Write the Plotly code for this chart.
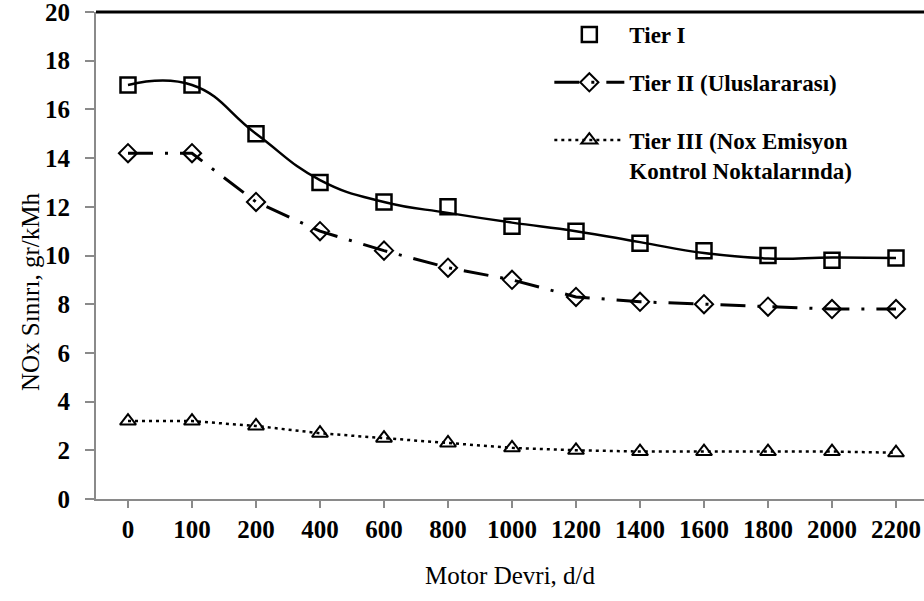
import plotly.graph_objects as go

categories = ["0", "100", "200", "400", "600", "800", "1000", "1200", "1400", "1600", "1800", "2000", "2200"]
tier1 = [17.0, 17.0, 15.0, 13.0, 12.2, 12.0, 11.2, 11.0, 10.5, 10.2, 10.0, 9.8, 9.9]
# smooth curve drawn through Tier I, values
tier1_curve = [17.0, 17.0, 15.0, 13.1, 12.2, 11.75, 11.35, 11.0, 10.55, 10.1, 9.88, 9.92, 9.9]
tier2 = [14.2, 14.2, 12.2, 11.0, 10.2, 9.5, 9.0, 8.3, 8.1, 8.0, 7.9, 7.8, 7.8]
tier3 = [3.2, 3.2, 3.0, 2.7, 2.5, 2.3, 2.1, 2.0, 1.95, 1.95, 1.95, 1.95, 1.9]
y_ticks = [0, 2, 4, 6, 8, 10, 12, 14, 16, 18, 20]

FONT = "Liberation Serif, Times New Roman, serif"
AXIS_GRAY = "#8a8a8a"

fig = go.Figure()

fig.add_trace(go.Scatter(
    x=categories, y=tier1_curve, mode="lines",
    line=dict(color="black", width=2.5, shape="spline", smoothing=1.3),
    showlegend=False, hoverinfo="skip",
))
fig.add_trace(go.Scatter(
    x=categories, y=tier1, mode="markers", name="<b>Tier I</b>",
    marker=dict(symbol="square-open", size=15, color="black", line=dict(width=2.5)),
    legendgroup="g1", legend="legend",
))
fig.add_trace(go.Scatter(
    x=categories, y=tier2, mode="lines+markers", name="<b>Tier II (Uluslararası)</b>",
    line=dict(color="black", width=3, dash="25px,12px,3px,12px"),
    marker=dict(symbol="diamond-open", size=14, color="black", line=dict(width=2)),
    legendgroup="g2", legend="legend",
))
fig.add_trace(go.Scatter(
    x=categories, y=tier3, mode="lines+markers",
    name="<b>Tier III (Nox Emisyon<br>Kontrol Noktalarında)</b>",
    line=dict(color="black", width=2.5, dash="3px,4px"),
    marker=dict(symbol="triangle-up-open", size=14, color="black", line=dict(width=2)),
    legendgroup="g3", legend="legend2",
))

fig.add_shape(type="line", xref="paper", yref="paper", x0=0, x1=1, y0=1, y1=1,
              line=dict(color="black", width=3))

fig.add_annotation(
    text="NOx Sınırı, gr/kMh", xref="paper", yref="paper",
    x=-0.0797, y=0.425, xanchor="center", yanchor="middle", textangle=-90,
    showarrow=False, font=dict(family=FONT, size=25, color="black"),
)

legend_font = dict(family=FONT, size=23, color="black")

fig.update_layout(
    width=924, height=601,
    margin=dict(l=96, r=0, t=12, b=102),
    paper_bgcolor="white", plot_bgcolor="white",
    font=dict(family=FONT, color="black"),
    showlegend=True,
    legend=dict(
        x=0.5475, y=0.998, xanchor="left", yanchor="top",
        bgcolor="rgba(0,0,0,0)", traceorder="grouped", tracegroupgap=15,
        font=legend_font, valign="top", itemwidth=70,
    ),
    legend2=dict(
        x=0.5475, y=0.781, xanchor="left", yanchor="top",
        bgcolor="rgba(0,0,0,0)",
        font=legend_font, valign="top", itemwidth=70,
    ),
    xaxis=dict(
        type="category", categoryorder="array", categoryarray=categories,
        range=[-0.5, 12.4375],
        showline=True, linecolor=AXIS_GRAY, linewidth=2,
        ticks="outside", ticklen=7, tickcolor=AXIS_GRAY, tickwidth=2,
        showgrid=False, zeroline=False,
        tickfont=dict(family=FONT, size=25, color="black", weight="bold"),
        title=dict(text="Motor Devri, d/d", font=dict(family=FONT, size=25, color="black"), standoff=24),
    ),
    yaxis=dict(
        range=[0, 20], tickvals=y_ticks,
        showline=True, linecolor=AXIS_GRAY, linewidth=2,
        ticks="outside", ticklen=9, tickcolor=AXIS_GRAY, tickwidth=2,
        showgrid=False, zeroline=False,
        tickfont=dict(family=FONT, size=25, color="black", weight="bold"),
        ticklabelstandoff=10, ticklabeloverflow="allow",
    ),
)

fig.write_html("out.html")
